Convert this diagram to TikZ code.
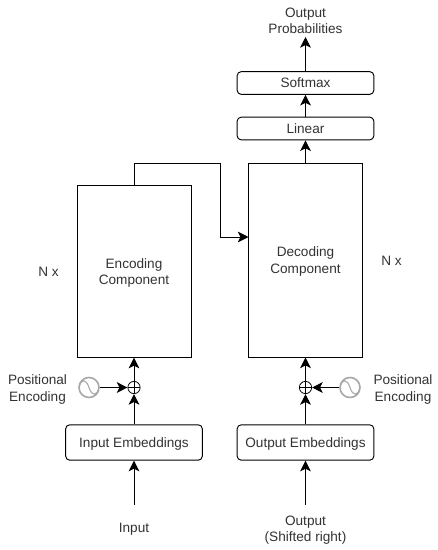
\documentclass[tikz,border=0pt]{standalone}
\usepackage{fontspec}
\setmainfont{Liberation Sans}
\usetikzlibrary{arrows.meta,calc,positioning}
\definecolor{txt}{HTML}{333333}
\definecolor{wave}{HTML}{A8A8A8}
\newcommand{\lowered}[2]{\raisebox{-#1}[\height][\depth]{\begin{tabular}{@{}c@{}}#2\end{tabular}}}
\tikzset{
  x=0.75pt,y=-0.75pt,
  lbl/.style={font=\fontsize{10.2pt}{12.2pt}\selectfont,text=txt,align=center,inner sep=0pt},
  roundbox/.style={draw=black,line width=0.7pt,rounded corners=3pt,minimum width=102.5pt,inner sep=0pt,lbl},
  bigbox/.style={draw=black,line width=0.7pt,minimum width=85.5pt,inner sep=0pt,lbl},
  sumnode/.style={draw=black,circle,line width=0.6pt,minimum size=9.2pt,inner sep=0pt,
    path picture={\draw[line width=0.6pt] (path picture bounding box.north)--(path picture bounding box.south)
      (path picture bounding box.west)--(path picture bounding box.east);}},
  sinenode/.style={draw=wave,circle,line width=1.2pt,minimum size=15pt,inner sep=0pt,
    path picture={\draw[wave,line width=0.8pt] ($(path picture bounding box.center)+(-10,0)$)
      .. controls +(2,-9) and +(-3,-9) .. (path picture bounding box.center)
      .. controls +(3,9) and +(-2,9) .. ($(path picture bounding box.center)+(10,0)$);}},
  conn/.style={draw=black,line width=0.75pt,-{Stealth[length=8pt,width=8pt,inset=2pt]}},
}
\begin{document}
\begin{tikzpicture}
\useasboundingbox (0,0) rectangle (437,550);
\fill[white] (0,0) rectangle (437,550);
\node[bigbox,minimum height=128.5pt] (enc) at (134,271.5) {\lowered{1.4pt}{Encoding\\Component}};
\node[bigbox,minimum height=145.5pt] (dec) at (305.5,260) {\lowered{1.4pt}{Decoding\\Component}};
\node[roundbox,minimum height=26.5pt] (inemb) at (134,442.5) {\lowered{1.2pt}{Input Embeddings}};
\node[roundbox,minimum height=26.5pt] (outemb) at (305.5,442.5) {\lowered{1.2pt}{Output Embeddings}};
\node[roundbox,minimum height=17pt] (lin) at (305.5,128.5) {\lowered{1pt}{Linear}};
\node[roundbox,minimum height=17pt] (soft) at (305.5,83) {\lowered{1.2pt}{Softmax}};
\node[sumnode] (s1) at (134,387.5) {};
\node[sumnode] (s2) at (305.5,387.5) {};
\node[sinenode] (w1) at (89,387.5) {};
\node[sinenode] (w2) at (350,387.5) {};
\node[lbl] (pe1) at (37.5,389.5) {Positional\\Encoding};
\node[lbl] (pe2) at (403,389.5) {Positional\\Encoding};
\node[lbl] (inp) at (134,529.5) {Input};
\node[lbl] (outp) at (305.5,530) {Output\\(Shifted right)};
\node[lbl] (prob) at (305.5,21) {Output\\Probabilities};
\node[lbl] (n1) at (48.5,272) {N x};
\node[lbl] (n2) at (391.5,261) {N x};
\coordinate (a1) at (134,505);
\coordinate (a2) at (305.5,505);
\coordinate (b1) at (305.5,37);
\coordinate (c1) at (134,163);
\coordinate (c2) at (220,163);
\coordinate (c3) at (220,237);
\coordinate (c4) at (248.5,237);
\draw[conn] (a1) -- (inemb.south);
\draw[conn] (a2) -- (outemb.south);
\draw[conn] (inemb.north) -- (s1.south);
\draw[conn] (outemb.north) -- (s2.south);
\draw[conn] (s1.north) -- (enc.south);
\draw[conn] (s2.north) -- (dec.south);
\draw[conn] (w1.east) -- (s1.west);
\draw[conn] (w2.west) -- (s2.east);
\draw[conn] (dec.north) -- (lin.south);
\draw[conn] (lin.north) -- (soft.south);
\draw[conn] (soft.north) -- (b1);
\draw[conn] (enc.north) -- (c1) -- (c2) -- (c3) -- (c4);
\end{tikzpicture}
\end{document}
